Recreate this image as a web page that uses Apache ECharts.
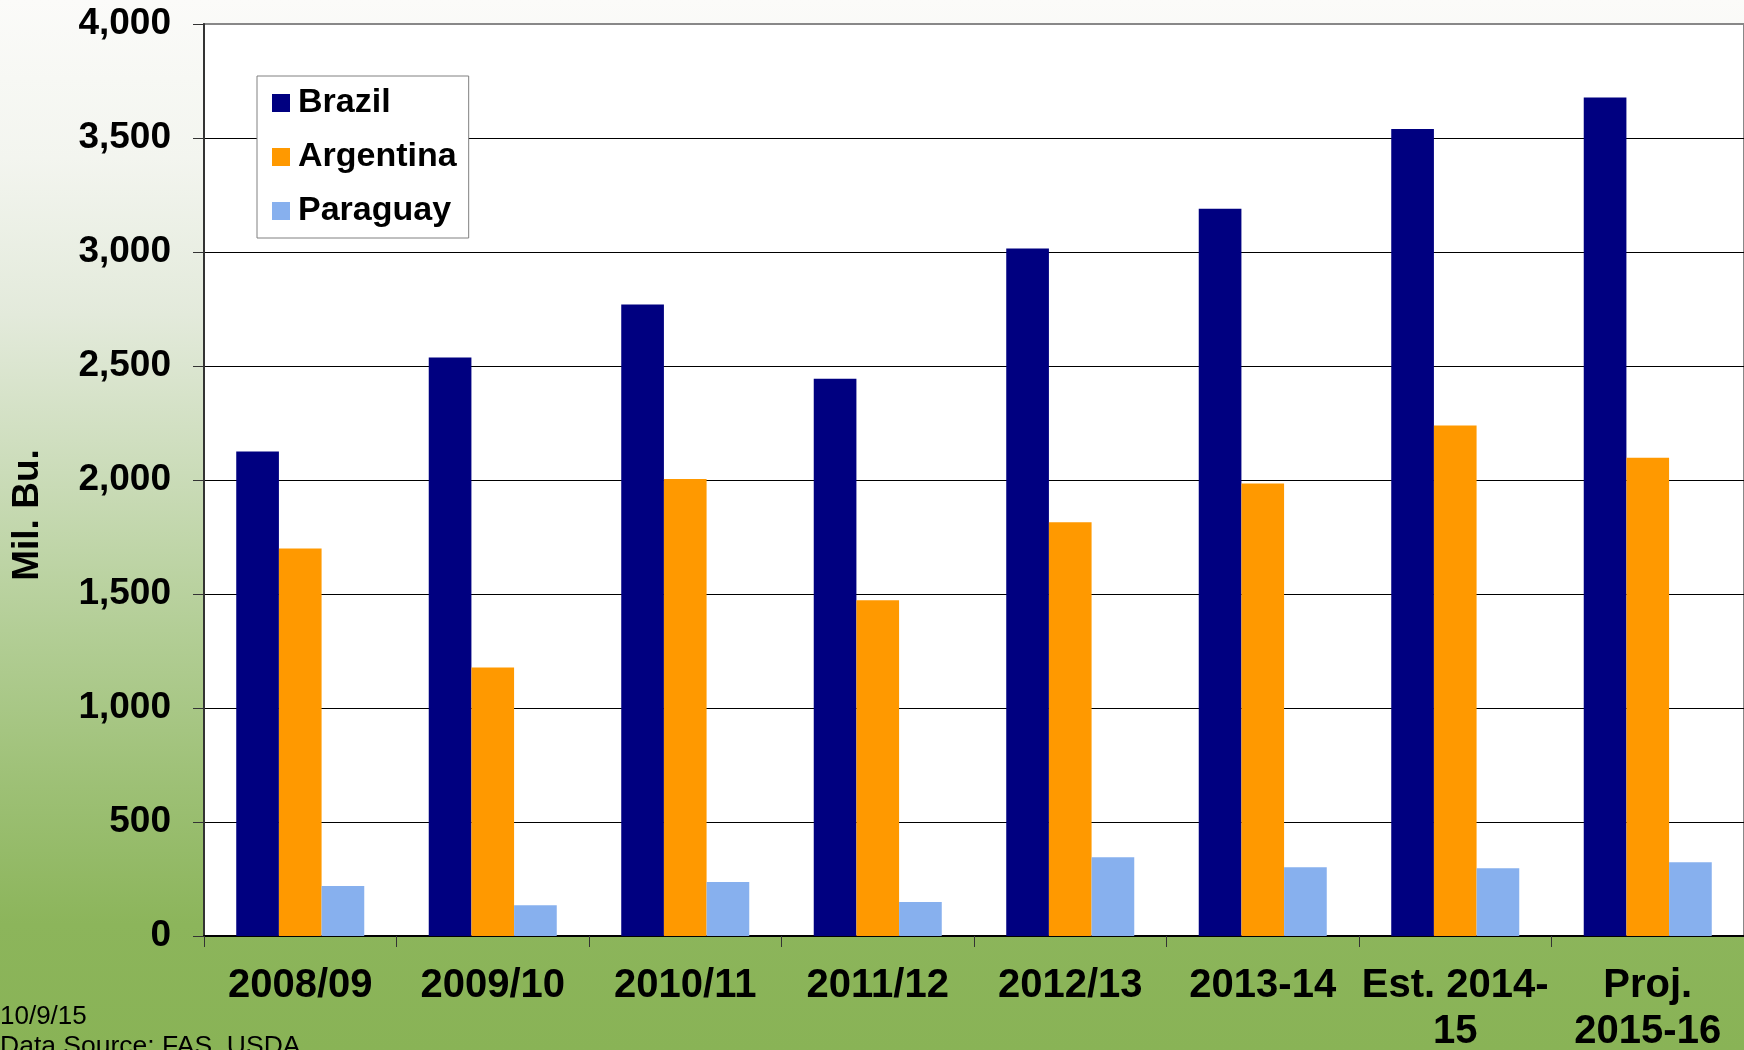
<!DOCTYPE html>
<html>
<head>
<meta charset="utf-8">
<script src="https://cdn.jsdelivr.net/npm/echarts@6/dist/echarts.min.js"></script>
<style>
  html, body { margin: 0; padding: 0; }
  #container { width: 1744px; height: 1050px; }
</style>
</head>
<body>
<div id="container"></div>
<script>
// crop years
const categories = ['2008/09', '2009/10', '2010/11', '2011/12', '2012/13', '2013-14', 'Est. 2014-\n15', 'Proj.\n2015-16']
// production, million bushels
const brazil = [2125, 2537, 2770, 2444, 3015, 3190, 3540, 3678]
const argentina = [1700, 1178, 2004, 1473, 1815, 1985, 2239, 2098]
const paraguay = [219, 135, 237, 149, 345, 301, 297, 323]
const yTicks = [0, 500, 1000, 1500, 2000, 2500, 3000, 3500, 4000]

let mychart = echarts.init(document.getElementById('container'))

const font = 'Liberation Sans, Arial, sans-serif'

let options = {
    animation: false,
    backgroundColor: new echarts.graphic.LinearGradient(0, 0, 0, 1, [
        { offset: 0, color: '#fbfbf9' },
        { offset: 0.15, color: '#f3f5ef' },
        { offset: 0.3, color: '#e3eadb' },
        { offset: 0.45, color: '#cbdcb9' },
        { offset: 0.6, color: '#b3ce96' },
        { offset: 0.75, color: '#9dc075' },
        { offset: 0.88, color: '#8cb55b' },
        { offset: 1, color: '#89b356' }
    ]),
    textStyle: { fontFamily: font },
    grid: {
        left: 204,
        top: 24,
        right: 0,
        bottom: 114,
        containLabel: false,
        outerBoundsMode: 'none',
        show: true,
        backgroundColor: '#fff',
        borderColor: '#888',
        borderWidth: 2
    },
    legend: {
        orient: 'vertical',
        left: 257,
        top: 76,
        padding: [10, 12, 10, 15],
        itemWidth: 18,
        itemHeight: 18,
        itemGap: 20,
        icon: 'rect',
        backgroundColor: '#fff',
        borderColor: '#808080',
        borderWidth: 1,
        textStyle: {
            fontSize: 34,
            fontWeight: 'bold',
            color: '#000',
            fontFamily: font,
            padding: [0, 0, 0, 3]
        },
        data: ['Brazil', 'Argentina', 'Paraguay']
    },
    xAxis: {
        type: 'category',
        data: categories,
        axisLine: { lineStyle: { color: '#000', width: 2 } },
        axisTick: { show: true, length: 11, lineStyle: { color: '#333', width: 1 } },
        axisLabel: {
            interval: 0,
            margin: 27,
            fontSize: 40,
            lineHeight: 46,
            fontWeight: 'bold',
            color: '#000',
            fontFamily: font
        }
    },
    yAxis: {
        type: 'value',
        min: 0,
        max: 4000,
        interval: 500,
        axisLine: { show: true, lineStyle: { color: '#333', width: 2 } },
        axisTick: { show: true, length: 11, lineStyle: { color: '#333' } },
        splitLine: {
            lineStyle: {
                color: yTicks.map((t, i) => i === yTicks.length - 1 ? '#888' : '#000'),
                width: 1
            }
        },
        axisLabel: {
            margin: 33,
            padding: [4, 0, 0, 0],
            fontSize: 37,
            fontWeight: 'bold',
            color: '#000',
            fontFamily: font,
            formatter: v => v.toLocaleString('en-US')
        }
    },
    series: [
        { name: 'Brazil', type: 'bar', data: brazil, barGap: '0%', barCategoryGap: '33.5%', itemStyle: { color: '#000080' } },
        { name: 'Argentina', type: 'bar', data: argentina, itemStyle: { color: '#ff9900' } },
        { name: 'Paraguay', type: 'bar', data: paraguay, itemStyle: { color: '#87b0ee' } }
    ],
    graphic: [
        {
            type: 'text', x: 28, y: 515, rotation: Math.PI / 2,
            style: { text: 'Mil. Bu.', font: 'bold 37px ' + font, fill: '#000', align: 'center', verticalAlign: 'middle' }
        },
        { type: 'text', left: 0, top: 1004, style: { text: '10/9/15', font: '26px ' + font, fill: '#000' } },
        { type: 'text', left: 0, top: 1033, style: { text: 'Data Source: FAS, USDA', font: '26.5px ' + font, fill: '#000' } }
    ]
}

mychart.setOption(options)
window.addEventListener('resize', () => { mychart.resize() })
</script>
</body>
</html>
